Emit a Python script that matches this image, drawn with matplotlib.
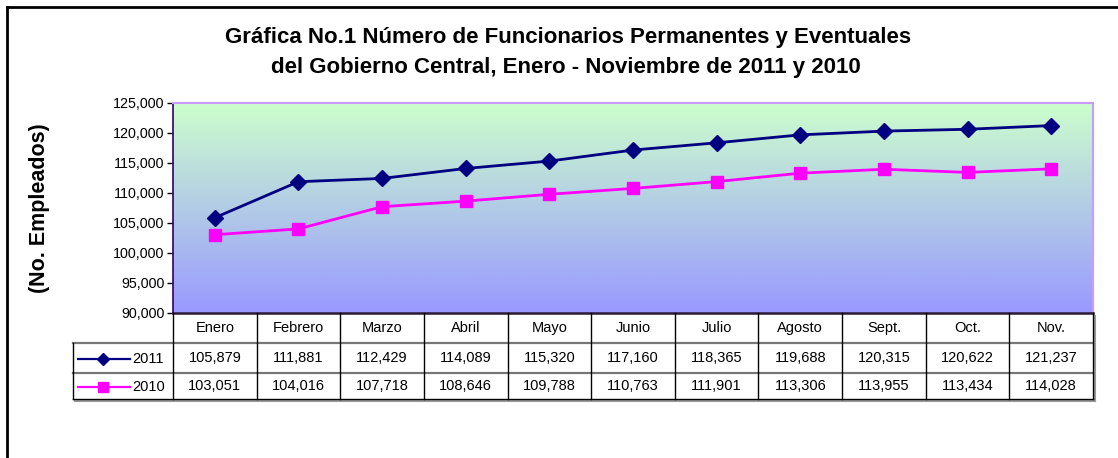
import matplotlib
matplotlib.use('Agg')
import matplotlib.pyplot as plt
import numpy as np
from matplotlib.colors import LinearSegmentedColormap
from matplotlib.lines import Line2D
from matplotlib.transforms import blended_transform_factory

meses = ['Enero', 'Febrero', 'Marzo', 'Abril', 'Mayo', 'Junio', 'Julio',
         'Agosto', 'Sept.', 'Oct.', 'Nov.']
serie_2011 = [105879, 111881, 112429, 114089, 115320, 117160, 118365,
              119688, 120315, 120622, 121237]
serie_2010 = [103051, 104016, 107718, 108646, 109788, 110763, 111901,
              113306, 113955, 113434, 114028]
y_ticks = [90000, 95000, 100000, 105000, 110000, 115000, 120000, 125000]

plt.rcParams['font.family'] = ['Liberation Sans', 'DejaVu Sans']

W, H = 1118, 458
fig = plt.figure(figsize=(W / 100, H / 100), dpi=100, facecolor='white')

# plot area in pixel terms
L, R, T, B = 173, 1093, 103, 313
ax = fig.add_axes([L / W, 1 - B / H, (R - L) / W, (B - T) / H])

n = len(meses)
x = np.arange(n)
ax.set_xlim(-0.5, n - 0.5)
ax.set_ylim(90000, 125000)

# green to periwinkle background
cmap = LinearSegmentedColormap.from_list('fondo', ['#9999FF', '#CCFFCC'])
grad = np.linspace(0, 1, 256).reshape(-1, 1)
ax.imshow(grad, cmap=cmap, aspect='auto', origin='lower',
          extent=(-0.5, n - 0.5, 90000, 125000), zorder=0)

ax.plot(x, serie_2011, color='#000080', lw=2, marker='D', ms=8,
        mec='#000080', mfc='#000080', zorder=3)
ax.plot(x, serie_2010, color='#FF00FF', lw=2, marker='s', ms=8,
        mec='#FF00FF', mfc='#FF00FF', zorder=3)

ax.set_yticks(y_ticks)
ax.set_yticklabels([f'{v:,}' for v in y_ticks], fontsize=10.3)
ax.tick_params(axis='y', length=4, width=1, pad=2)
ax.set_xticks([])

ax.spines['left'].set_color('#330066')
ax.spines['top'].set_color('#CC99FF')
ax.spines['right'].set_color('#CC99FF')
ax.spines['bottom'].set_color('#2a1a33')
ax.spines['left'].set_linewidth(1.2)
ax.spines['top'].set_linewidth(1.5)
ax.spines['right'].set_linewidth(1.5)
ax.spines['bottom'].set_linewidth(1.8)

ax.set_ylabel('(No. Empleados)', fontsize=15.5, fontweight='bold')
ax.yaxis.set_label_coords(-(L - 50) / (R - L), 0.5)

fig.text(0.508, 1 - 38 / H,
         'Gráfica No.1 Número de Funcionarios Permanentes y Eventuales',
         ha='center', va='center', fontsize=16, fontweight='bold')
fig.text(0.506, 1 - 68 / H,
         'del Gobierno Central, Enero - Noviembre de 2011 y 2010',
         ha='center', va='center', fontsize=16, fontweight='bold')

# data table below the plot
ph = B - T
pw = R - L


def fy(px):
    return (B - px) / ph


def fx(px):
    return (px - L) / pw


tr_cols = blended_transform_factory(ax.transData, ax.transAxes)
tr_axes = ax.transAxes
rows = [313, 343, 373, 399]
leg_left = 73
fs_tab = 10.5

line_kw = dict(clip_on=False, zorder=5)
# drop shadow
ax.add_line(Line2D([fx(leg_left + 2), fx(R + 2)], [fy(rows[3] + 2)] * 2,
                   transform=tr_axes, color='#999999', lw=1.5, **line_kw))
ax.add_line(Line2D([fx(R + 2)] * 2, [fy(rows[0] + 3), fy(rows[3] + 2)],
                   transform=tr_axes, color='#999999', lw=1.5, **line_kw))

# horizontal rules
ax.add_line(Line2D([fx(leg_left), 1], [fy(rows[1])] * 2, transform=tr_axes,
                   color='#777777', lw=1.6, **line_kw))
ax.add_line(Line2D([fx(leg_left), 1], [fy(rows[2])] * 2, transform=tr_axes,
                   color='#777777', lw=1.6, **line_kw))
ax.add_line(Line2D([fx(leg_left), 1], [fy(rows[3])] * 2, transform=tr_axes,
                   color='black', lw=1, **line_kw))
# vertical rules
ax.add_line(Line2D([fx(leg_left)] * 2, [fy(rows[1]), fy(rows[3])],
                   transform=tr_axes, color='black', lw=1, **line_kw))
for b in np.arange(n + 1) - 0.5:
    ax.add_line(Line2D([b, b], [fy(rows[0]), fy(rows[3])], transform=tr_cols,
                       color='black', lw=1, **line_kw))

for i, m in enumerate(meses):
    ax.text(i, fy((rows[0] + rows[1]) / 2), m, transform=tr_cols,
            ha='center', va='center', fontsize=fs_tab, clip_on=False)
    ax.text(i, fy((rows[1] + rows[2]) / 2), f'{serie_2011[i]:,}',
            transform=tr_cols, ha='center', va='center', fontsize=fs_tab,
            clip_on=False)
    ax.text(i, fy((rows[2] + rows[3]) / 2), f'{serie_2010[i]:,}',
            transform=tr_cols, ha='center', va='center', fontsize=fs_tab,
            clip_on=False)

# legend keys inside the table
for (r0, r1), color, marker, ms, label in [((rows[1], rows[2]), '#000080', 'D', 6, '2011'),
                                           ((rows[2], rows[3]), '#FF00FF', 's', 6.5, '2010')]:
    yc = fy((r0 + r1) / 2 + 1)
    ax.add_line(Line2D([fx(78), fx(130)], [yc, yc], transform=tr_axes,
                       color=color, lw=1.6, **line_kw))
    ax.add_line(Line2D([fx(103)], [yc], transform=tr_axes, color=color,
                       marker=marker, ms=ms, mfc=color, mec=color, **line_kw))
    ax.text(fx(132), yc, label, transform=tr_axes, ha='left', va='center',
            fontsize=fs_tab, clip_on=False)

# outer frame (top and left edges visible)
fig.add_artist(Line2D([7 / W, 1], [1 - 7 / H] * 2, transform=fig.transFigure,
                      color='black', lw=2))
fig.add_artist(Line2D([7 / W] * 2, [0, 1 - 7 / H], transform=fig.transFigure,
                      color='black', lw=2))

fig.savefig('out.png', dpi=100, facecolor='white')
